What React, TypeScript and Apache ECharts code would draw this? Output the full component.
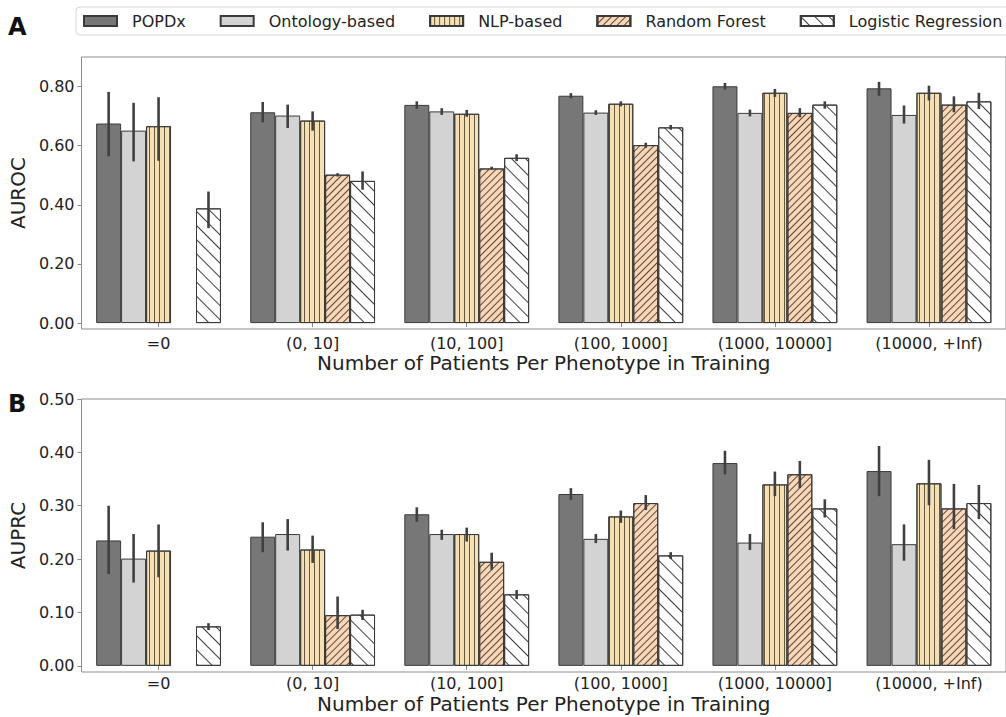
import React, { useEffect, useRef } from 'react';
import * as echarts from 'echarts';

const categories = ['=0', '(0, 10]', '(10, 100]', '(100, 1000]', '(1000, 10000]', '(10000, +Inf)'];
const methods = ['POPDx', 'Ontology-based', 'NLP-based', 'Random Forest', 'Logistic Regression'];
const yTicksA = [0, 0.2, 0.4, 0.6, 0.8];
const yTicksB = [0, 0.1, 0.2, 0.3, 0.4, 0.5];

// AUROC (rows follow `methods`)
const aurocMean: (number | null)[][] = [
  [0.675, 0.713, 0.738, 0.769, 0.801, 0.794],
  [0.651, 0.702, 0.716, 0.712, 0.711, 0.704],
  [0.666, 0.685, 0.708, 0.742, 0.779, 0.779],
  [null, 0.502, 0.523, 0.602, 0.711, 0.739],
  [0.388, 0.481, 0.559, 0.662, 0.739, 0.750],
];
const aurocLow: (number | null)[][] = [
  [0.564, 0.679, 0.725, 0.760, 0.790, 0.769],
  [0.547, 0.660, 0.704, 0.704, 0.699, 0.675],
  [0.549, 0.651, 0.698, 0.733, 0.765, 0.753],
  [null, 0.496, 0.519, 0.593, 0.696, 0.713],
  [0.321, 0.451, 0.548, 0.654, 0.725, 0.724],
];
const aurocHigh: (number | null)[][] = [
  [0.782, 0.748, 0.750, 0.778, 0.812, 0.816],
  [0.745, 0.739, 0.727, 0.720, 0.722, 0.736],
  [0.764, 0.716, 0.721, 0.750, 0.792, 0.803],
  [null, 0.507, 0.529, 0.610, 0.727, 0.767],
  [0.445, 0.513, 0.571, 0.670, 0.750, 0.779],
];

// AUPRC
const auprcMean: (number | null)[][] = [
  [0.235, 0.242, 0.284, 0.322, 0.380, 0.365],
  [0.201, 0.247, 0.247, 0.238, 0.231, 0.228],
  [0.216, 0.218, 0.247, 0.280, 0.340, 0.342],
  [null, 0.095, 0.195, 0.305, 0.359, 0.295],
  [0.074, 0.096, 0.134, 0.207, 0.295, 0.305],
];
const auprcLow: (number | null)[][] = [
  [0.172, 0.213, 0.270, 0.311, 0.359, 0.318],
  [0.156, 0.216, 0.236, 0.230, 0.217, 0.197],
  [0.166, 0.193, 0.233, 0.268, 0.318, 0.301],
  [null, 0.069, 0.180, 0.292, 0.333, 0.256],
  [0.067, 0.086, 0.125, 0.200, 0.278, 0.275],
];
const auprcHigh: (number | null)[][] = [
  [0.300, 0.269, 0.297, 0.333, 0.403, 0.412],
  [0.247, 0.275, 0.255, 0.247, 0.247, 0.265],
  [0.265, 0.244, 0.259, 0.291, 0.364, 0.386],
  [null, 0.130, 0.212, 0.320, 0.384, 0.341],
  [0.080, 0.105, 0.142, 0.213, 0.312, 0.339],
];

const FONT = 'DejaVu Sans';
const CAT_GAP = 0.19;

const fills = ['#777777', '#d3d3d3', '#f5dfb5', '#f8d6b8', '#ffffff'];
const decals: any[] = [
  null,
  null,
  { symbol: 'rect', symbolSize: 1, color: 'rgba(70,55,30,0.8)', dashArrayX: [1, 0], dashArrayY: [1, 3.4], rotation: Math.PI / 2 },
  { symbol: 'rect', symbolSize: 1, color: 'rgba(60,45,30,0.85)', dashArrayX: [1, 0], dashArrayY: [1, 3.8], rotation: -Math.PI / 4 },
  { symbol: 'rect', symbolSize: 1, color: 'rgba(40,40,40,0.9)', dashArrayX: [1, 0], dashArrayY: [1, 8.5], rotation: Math.PI / 4 },
];

function buildPanel(p: number, mean: (number | null)[][], low: (number | null)[][], high: (number | null)[][]) {
  const series: any[] = methods.map((name, m) => ({
    type: 'bar',
    name,
    xAxisIndex: p,
    yAxisIndex: p,
    data: mean[m],
    barGap: '0%',
    barCategoryGap: `${CAT_GAP * 100}%`,
    itemStyle: {
      color: fills[m],
      borderColor: '#3a3a3a',
      borderWidth: 1,
      decal: decals[m] || undefined,
    },
    emphasis: { disabled: true },
  }));
  const errData: number[][] = [];
  methods.forEach((_, m) => {
    categories.forEach((_, c) => {
      const lo = low[m][c];
      const hi = high[m][c];
      if (lo != null && hi != null) errData.push([c, lo, hi, m]);
    });
  });
  series.push({
    type: 'custom',
    name: 'err' + p,
    xAxisIndex: p,
    yAxisIndex: p,
    z: 5,
    data: errData,
    renderItem: (params: any, api: any) => {
      const c = api.value(0);
      const m = api.value(3);
      const band = api.size([1, 0])[0];
      const bw = (band * (1 - CAT_GAP)) / methods.length;
      const x = api.coord([c, 0])[0] + (m - (methods.length - 1) / 2) * bw;
      const y1 = api.coord([c, api.value(1)])[1];
      const y2 = api.coord([c, api.value(2)])[1];
      return {
        type: 'line',
        shape: { x1: x, y1, x2: x, y2 },
        style: { stroke: '#404040', lineWidth: 2.6 },
      };
    },
  });
  return series;
}

export default function App() {
  const ref = useRef<HTMLDivElement>(null);
  useEffect(() => {
    if (!ref.current) return;
    const chart = echarts.init(ref.current, null, { renderer: 'svg' });
    const xAxisBase = (gridIndex: number, labelMargin: number, nameGap: number) => ({
      type: 'category',
      gridIndex,
      data: categories,
      axisLine: { show: false },
      axisTick: { show: true, alignWithLabel: true, length: 4, lineStyle: { color: '#888' } },
      axisLabel: { fontSize: 16, lineHeight: 14, color: '#222', margin: labelMargin, fontFamily: FONT, interval: 0 },
      name: 'Number of Patients Per Phenotype in Training',
      nameLocation: 'middle',
      nameGap,
      nameTextStyle: { fontSize: 20, lineHeight: 17, color: '#222', fontFamily: FONT },
    });
    const yAxisBase = (gridIndex: number, min: number, max: number, ticks: number[], name: string) => ({
      type: 'value',
      gridIndex,
      min,
      max,
      splitLine: { show: false },
      axisLine: { show: false },
      axisTick: { show: true, length: 4, customValues: ticks, lineStyle: { color: '#888' } },
      axisLabel: {
        fontSize: 16,
        color: '#222',
        margin: 7,
        fontFamily: FONT,
        customValues: ticks,
        formatter: (v: number) => v.toFixed(2),
      },
      name,
      nameLocation: 'middle',
      nameGap: 42,
      nameRotate: 90,
      nameTextStyle: { fontSize: 20, color: '#222', fontFamily: FONT },
    });
    chart.setOption({
      animation: false,
      textStyle: { fontFamily: FONT },
      grid: [
        { left: 81, right: -4.5, top: 57, bottom: 388, show: true, borderColor: '#8c8c8c', borderWidth: 1, backgroundColor: 'transparent' },
        { left: 81, right: -4.5, top: 399, bottom: 45, show: true, borderColor: '#8c8c8c', borderWidth: 1, backgroundColor: 'transparent' },
      ],
      legend: {
        data: methods,
        left: 76,
        top: 7,
        width: 1100,
        padding: [6, 7, 6, 7],
        itemWidth: 33,
        itemHeight: 10,
        itemGap: 34,
        icon: 'rect',
        borderColor: '#d6d6d6',
        borderWidth: 1,
        borderRadius: 4,
        selectedMode: false,
        textStyle: { fontSize: 16, color: '#222', fontFamily: FONT, padding: [0, 0, 0, 10] },
      },
      xAxis: [xAxisBase(0, 7, 25), xAxisBase(1, 4, 23)],
      yAxis: [
        yAxisBase(0, -0.02, 0.9, yTicksA, 'AUROC'),
        yAxisBase(1, -0.0115, 0.5, yTicksB, 'AUPRC'),
      ],
      graphic: [
        { type: 'text', left: 8, top: 15, style: { text: 'A', font: `bold 24px "${FONT}"`, fill: '#111' } },
        { type: 'text', left: 8, top: 392, style: { text: 'B', font: `bold 24px "${FONT}"`, fill: '#111' } },
      ],
      series: [...buildPanel(0, aurocMean, aurocLow, aurocHigh), ...buildPanel(1, auprcMean, auprcLow, auprcHigh)],
    });
    return () => chart.dispose();
  }, []);
  return <div ref={ref} style={{ position: 'absolute', left: 0, top: 0, width: 1006, height: 717 }} />;
}
